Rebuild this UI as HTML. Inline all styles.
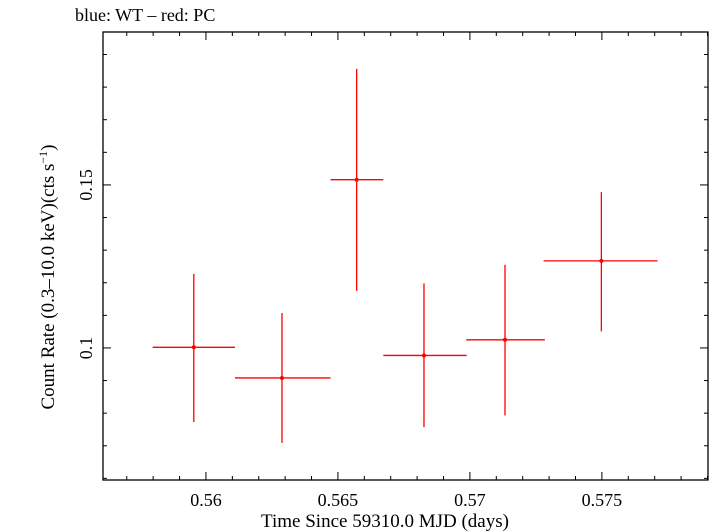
<!DOCTYPE html>
<html><head><meta charset="utf-8"><style>
html,body{margin:0;padding:0;background:#fff;}
svg{display:block;font-family:"Liberation Serif",serif;}
</style></head><body>
<svg id="chart" width="709" height="532" viewBox="0 0 709 532" xmlns="http://www.w3.org/2000/svg">
<text x="75" y="21" font-size="18" fill="#000">blue: WT – red: PC</text>
<g id="axes"></g>
<g id="marks"></g>
<text x="385" y="527" font-size="19" text-anchor="middle">Time Since 59310.0 MJD (days)</text>
<text transform="translate(54,277) rotate(-90)" font-size="19" text-anchor="middle">Count Rate (0.3–10.0 keV)(cts s<tspan dy="-7" font-size="12">−1</tspan><tspan dy="7">)</tspan></text>
</svg>
<script>
const xValues=[0.55954,0.56288,0.56571,0.56826,0.57133,0.57498];
const xLow=[0.55798,0.56110,0.56472,0.56672,0.56986,0.57279];
const xHigh=[0.56110,0.56472,0.56672,0.56988,0.57284,0.57711];
const yValues=[0.1002,0.0908,0.1516,0.0977,0.1025,0.1267];
const yLow=[0.0773,0.0709,0.1175,0.0757,0.0793,0.1051];
const yHigh=[0.1227,0.1107,0.1856,0.1198,0.1255,0.1478];
const xTickLabels=["0.56","0.565","0.57","0.575"];
const yTickLabels=["0.1","0.15"];

const L=103,R=708,T=32,B=480;
const xMin=0.5561,xMax=0.57902,yMin=0.0595,yMax=0.1969;
const X=v=>L+(v-xMin)/(xMax-xMin)*(R-L);
const Y=v=>B-(v-yMin)/(yMax-yMin)*(B-T);
const NS="http://www.w3.org/2000/svg";
function mk(tag,attrs,parent){const e=document.createElementNS(NS,tag);for(const k in attrs)e.setAttribute(k,attrs[k]);parent.appendChild(e);return e;}
const axes=document.getElementById('axes');
const frame=mk('rect',{x:L,y:T,width:R-L,height:B-T,fill:'none',stroke:'#000','stroke-width':1.3},axes);


for(let i=0;i<=25;i++){const v=0.556+i*0.001;if(v<xMin||v>xMax)continue;const x=X(v);
 const major=Math.abs((v*1000)%5)<1e-6||Math.abs((v*1000)%5-5)<1e-6;const len=major?8:4;
 const t1=mk('line',{x1:x,x2:x,y1:B,y2:B-len,stroke:'#000','stroke-width':1},axes);
 
 
 const t2=mk('line',{x1:x,x2:x,y1:T,y2:T+len,stroke:'#000','stroke-width':1},axes);
 
 }
xTickLabels.forEach(s=>{const tx=mk('text',{x:X(parseFloat(s)),y:506,'font-size':18,'text-anchor':'middle'},axes);tx.textContent=s;
 
 });
for(let i=0;i<=20;i++){const v=0.06+i*0.01;if(v<yMin||v>yMax)continue;const y=Y(v);
 const major=Math.abs(v-0.1)<1e-6||Math.abs(v-0.15)<1e-6;const len=major?8:4;
 const t1=mk('line',{x1:L,x2:L+len,y1:y,y2:y,stroke:'#000','stroke-width':1},axes);
 
 
 const t2=mk('line',{x1:R,x2:R-len,y1:y,y2:y,stroke:'#000','stroke-width':1},axes);
 
 }
yTickLabels.forEach(s=>{const tx=mk('text',{transform:`translate(92,${Y(parseFloat(s))}) rotate(-90)`,'font-size':18,'text-anchor':'middle'},axes);tx.textContent=s;
 
 });
const g=document.getElementById('marks');
xValues.forEach((xv,i)=>{
 const h=mk('line',{x1:X(xLow[i]),x2:X(xHigh[i]),y1:Y(yValues[i]),y2:Y(yValues[i]),stroke:'#f00','stroke-width':1.3},g);
 
 
 const v=mk('line',{x1:X(xv),x2:X(xv),y1:Y(yLow[i]),y2:Y(yHigh[i]),stroke:'#f00','stroke-width':1.3},g);
 
 
 const p=mk('circle',{cx:X(xv),cy:Y(yValues[i]),r:2,fill:'#f00'},g);
 
 
});
</script>
</body></html>
